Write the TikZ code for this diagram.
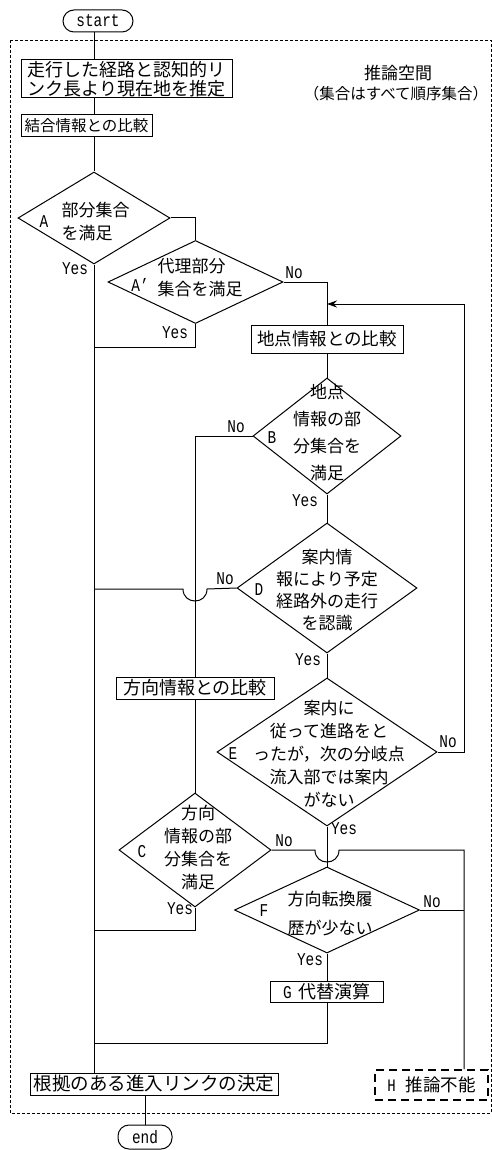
\documentclass[tikz,border=0pt]{standalone}
\usepackage{fontspec}
\setmainfont{Noto Sans CJK JP}
\newfontfamily\lat[FakeStretch=0.8]{Liberation Mono}
\usetikzlibrary{shapes.geometric,arrows.meta}
\begin{document}
\begin{tikzpicture}[x=1pt,y=-1pt,line width=1pt,
  box/.style={draw,inner sep=0pt,font=\fontsize{18}{19}\selectfont},
  term/.style={draw,rounded corners=11pt,inner sep=0pt,font=\lat\fontsize{18}{18}\selectfont},
  dia/.style={draw,diamond,inner sep=0pt},
  dtext/.style={align=center,inner sep=0pt,font=\fontsize{17}{23}\selectfont},
  lab/.style={inner sep=0pt,font=\lat\fontsize{18}{18}\selectfont},
  title/.style={inner sep=0pt},
  outer/.style={draw,line width=0.8pt,dash pattern=on 3pt off 2pt},
  hbox/.style={draw,line width=1.6pt,dash pattern=on 8pt off 5pt,inner sep=0pt,font=\fontsize{17.5}{19}\selectfont},
  arr/.style={-{Stealth[length=10pt,width=7pt]}}
  ]
\useasboundingbox (0,0) rectangle (492,1150);
% outer dashed frame
\path[outer] (10,40) rectangle (491,1113);
% title
\node[title,font=\fontsize{17}{19}\selectfont] (t1) at (398,73) {推論空間};
\node[title,font=\fontsize{15.5}{17}\selectfont] (t2) at (396,94) {（集合はすべて順序集合）};
% terminals and boxes
\node[term,minimum width=70pt,minimum height=22pt] (start) at (98,21) {start};
\node[box,minimum width=211pt,minimum height=38pt,align=left] (b1) at (126.5,79) {走行した経路と認知的リ\\ンク長より現在地を推定};
\node[box,minimum width=131pt,minimum height=22pt,font=\fontsize{15.5}{17}\selectfont] (b2) at (86.5,126) {結合情報との比較};
% diamond A
\node[dia,minimum width=152pt,minimum height=92pt] (A) at (94,218) {};
\node[dtext,align=left,anchor=west] (At) at (61,222) {部分集合\\を満足};
\node[lab] (Al) at (44,222) {A};
\node[lab] (Ay) at (75,269) {Yes};
% diamond A'
\node[dia,minimum width=175pt,minimum height=83pt] (Ap) at (195.5,282) {};
\node[dtext,align=left,anchor=west] (Apt) at (157,278) {代理部分\\集合を満足};
\node[lab] (Apl) at (140,285) {A’};
\node[lab] (Apn) at (294,273) {No};
\node[lab] (Apy) at (175,333) {Yes};
% box P
\node[box,minimum width=152pt,minimum height=28pt,font=\fontsize{17.5}{19}\selectfont] (P) at (327,339) {地点情報との比較};
% diamond B
\node[dia,minimum width=148pt,minimum height=116pt] (B) at (327,436) {};
\node[dtext,font=\fontsize{17}{27}\selectfont] (Bt) at (327,433) {地点\\情報の部\\分集合を\\満足};
\node[lab] (Bl) at (272,438) {B};
\node[lab] (Bn) at (236,427) {No};
\node[lab] (By) at (305,501) {Yes};
% diamond D
\node[dia,minimum width=180pt,minimum height=130pt] (D) at (327,588) {};
\node[dtext,font=\fontsize{17}{22}\selectfont] (Dt) at (327,590) {案内情\\報により予定\\経路外の走行\\を認識};
\node[lab] (Dl) at (259,590) {D};
\node[lab] (Dn) at (225,579) {No};
\node[lab] (Dy) at (308,660) {Yes};
% box Q
\node[box,minimum width=158pt,minimum height=22pt] (Q) at (195,688) {方向情報との比較};
% diamond E
\node[dia,minimum width=220pt,minimum height=148pt] (E) at (327,752) {};
\node[dtext] (Et) at (329,754) {案内に\\従って進路をと\\ったが，次の分岐点\\流入部では案内\\がない};
\node[lab] (El) at (233,754) {E};
\node[lab] (En) at (448,742) {No};
\node[lab] (Ey) at (344,829) {Yes};
% diamond C
\node[dia,minimum width=152pt,minimum height=114pt] (C) at (195,850) {};
\node[dtext] (Ct) at (198,848) {方向\\情報の部\\分集合を\\満足};
\node[lab] (Cl) at (142,852) {C};
\node[lab] (Cn) at (284,841) {No};
\node[lab] (Cy) at (180,909) {Yes};
% diamond F
\node[dia,minimum width=185pt,minimum height=86pt] (F) at (327,910) {};
\node[dtext,font=\fontsize{17}{29}\selectfont] (Ft) at (330,914) {方向転換履\\歴が少ない};
\node[lab] (Fl) at (264,911) {F};
\node[lab] (Fn) at (432,902) {No};
\node[lab] (Fy) at (310,960) {Yes};
% box G
\node[box,minimum width=113pt,minimum height=21pt] (G) at (327,992) {{\lat G}\hspace{7pt}代替演算};
% final
\node[box,minimum width=248pt,minimum height=22pt,font=\fontsize{18.5}{19}\selectfont] (fin) at (154,1084) {根拠のある進入リンクの決定};
\node[hbox,minimum width=113pt,minimum height=30pt] (H) at (431.5,1085) {{\lat H}\hspace{10pt}推論不能\hspace{12pt}};
\node[term,minimum width=54pt,minimum height=24pt] (end) at (145,1137) {end};
% coordinates
\coordinate (rc) at (464,304);
\coordinate (j1) at (94,347);
\coordinate (j2) at (94,589);
\coordinate (j3) at (94,930);
\coordinate (j4) at (94,1043);
% connectors
\draw (start.south -| A) -- (b1.north -| A);
\draw (b1.south -| A) -- (b2.north -| A);
\draw (b2.south -| A) -- (A.north);
\draw (A.south) -- (fin.north -| A);
\draw (A.east) -| (Ap.north);
\draw (Ap.east) -| (P.north);
\draw (Ap.south) |- (j1);
\draw (P.south) -- (B.north);
\draw (B.south) -- (D.north);
\draw (D.south) -- (E.north);
\draw (E.south) -- (F.north);
\draw (F.south) -- (G.north);
\draw (G.south) |- (j4);
\draw (B.west) -| (Q.north);
\draw (Q.south) -- (C.north);
\draw (C.south) |- (j3);
\draw (D.west) -- (207,589) .. controls (207,605) and (183,605) .. (183,589) -- (j2);
\draw[arr] (E.east) -| (rc) -- (rc -| P.north);
\draw (C.east) -- (315,850) .. controls (315,866) and (339,866) .. (339,850) -- (464,850) -- (H.north -| rc);
\draw (F.east) -- (F.east -| rc);
\draw (end.north |- fin.south) -- (end.north);
\end{tikzpicture}
\end{document}
